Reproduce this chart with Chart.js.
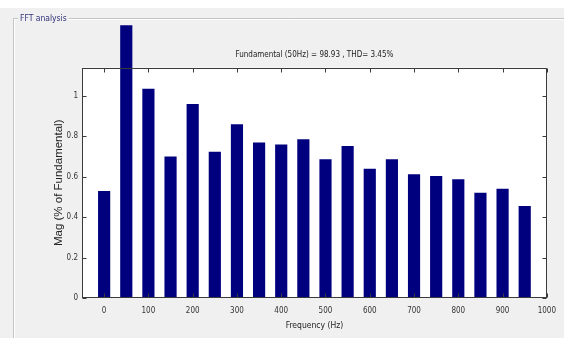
<!DOCTYPE html>
<html><head><meta charset="utf-8">
<script src="https://cdn.jsdelivr.net/npm/chart.js@4.4.0/dist/chart.umd.min.js"></script>
<style>html,body{margin:0;padding:0;background:#fff;}#wrap{width:564px;height:338px;position:relative;}</style>
</head><body><div id="wrap"><canvas id="c" width="564" height="338"></canvas></div>
<script>
const frequencies = [0,50,100,150,200,250,300,350,400,450,500,550,600,650,700,750,800,850,900,950];
const magnitudes = [0.53,1.35,1.035,0.70,0.96,0.724,0.86,0.77,0.76,0.785,0.687,0.752,0.64,0.687,0.612,0.604,0.587,0.521,0.541,0.455];
const xTicks = [0,100,200,300,400,500,600,700,800,900,1000];
const yTicks = [0,0.2,0.4,0.6,0.8,1];
const titleText = 'Fundamental (50Hz) = 98.93 , THD= 3.45%';
const panelLabel = 'FFT analysis';
const xTitle = 'Frequency (Hz)';
const yTitle = 'Mag (% of Fundamental)';

const NARROW = "'Liberation Sans Narrow','DejaVu Sans Condensed','Arial Narrow',sans-serif";
const WIDE = "'Liberation Sans',Arial,sans-serif";

const framePlugin = {
  id: 'framePlugin',
  beforeDraw(chart) {
    const {ctx, chartArea: a} = chart;
    ctx.save();
    ctx.fillStyle = '#ffffff'; ctx.fillRect(0, 0, 564, 338);
    ctx.fillStyle = '#f0f0f0'; ctx.fillRect(0, 8, 564, 330);
    ctx.lineWidth = 1;
    ctx.strokeStyle = '#c4c4c4';
    ctx.beginPath(); ctx.moveTo(13.5, 338); ctx.lineTo(13.5, 18.5); ctx.lineTo(564, 18.5); ctx.stroke();
    ctx.strokeStyle = '#ffffff';
    ctx.beginPath(); ctx.moveTo(14.5, 338); ctx.lineTo(14.5, 19.5); ctx.lineTo(564, 19.5); ctx.stroke();
    ctx.font = '8.5px ' + NARROW;
    const w = ctx.measureText(panelLabel).width;
    ctx.fillStyle = '#f0f0f0'; ctx.fillRect(18, 12, w + 4, 14);
    ctx.fillStyle = '#30307a'; ctx.textBaseline = 'middle'; ctx.textAlign = 'left';
    ctx.fillText(panelLabel, 20, 19);
    ctx.fillStyle = '#ffffff'; ctx.fillRect(a.left, a.top, a.right - a.left, a.bottom - a.top);
    ctx.restore();
  },
  afterDatasetsDraw(chart) {
    const {ctx, chartArea: a, scales} = chart;
    ctx.save();
    ctx.strokeStyle = '#3a3a3a'; ctx.lineWidth = 1;
    const L = Math.round(a.left) + 0.5, R = Math.round(a.right) - 0.5, T = Math.round(a.top) + 0.5, B = Math.round(a.bottom) - 0.5;
    ctx.strokeRect(L, T, R - L, B - T);
    ctx.beginPath();
    xTicks.forEach(v => {
      const x = Math.round(scales.x.getPixelForValue(v)) + 0.5;
      ctx.moveTo(x, B); ctx.lineTo(x, B - 4);
      ctx.moveTo(x, T); ctx.lineTo(x, T + 4);
    });
    yTicks.forEach(v => {
      const y = Math.round(scales.y.getPixelForValue(v)) + 0.5;
      ctx.moveTo(L, y); ctx.lineTo(L + 4, y);
      ctx.moveTo(R, y); ctx.lineTo(R - 4, y);
    });
    ctx.stroke();
    ctx.restore();
  }
};

new Chart(document.getElementById('c'), {
  type: 'bar',
  data: {
    datasets: [{
      data: frequencies.map((f, i) => ({x: f, y: magnitudes[i]})),
      backgroundColor: '#00007f',
      borderWidth: 0,
      barPercentage: 0.55,
      categoryPercentage: 1,
      clip: false
    }]
  },
  options: {
    responsive: false,
    animation: false,
    devicePixelRatio: 1,
    layout: {padding: {left: 0, right: 15, top: 0, bottom: 0}},
    plugins: {
      legend: {display: false},
      tooltip: {enabled: false},
      title: {
        display: true, text: titleText, fullSize: false,
        color: '#222', font: {family: NARROW, size: 8, weight: 'normal', lineHeight: 1.2},
        padding: {top: 50, bottom: 8}
      }
    },
    scales: {
      x: {
        type: 'linear', min: -50, max: 1000, offset: false,
        grid: {display: false, drawTicks: false},
        border: {display: false},
        afterBuildTicks: s => { s.ticks = xTicks.map(v => ({value: v})); },
        afterFit: s => { s.height = 40; },
        ticks: {color: '#333', font: {family: NARROW, size: 8}, padding: 8, maxRotation: 0, autoSkip: false,
          callback: v => String(v)},
        title: {display: true, text: xTitle, color: '#222', font: {family: NARROW, size: 8.5}, padding: {top: 0, bottom: 7}}
      },
      y: {
        type: 'linear', min: 0, max: 1.14,
        grid: {display: false, drawTicks: false},
        border: {display: false},
        afterBuildTicks: s => { s.ticks = yTicks.map(v => ({value: v})); },
        afterFit: s => { s.width = 82; },
        ticks: {color: '#333', font: {family: NARROW, size: 8}, padding: 4, autoSkip: false,
          callback: v => String(Math.round(v * 10) / 10)},
        title: {display: true, text: yTitle, color: '#222', font: {family: WIDE, size: 11.5}, padding: {top: 52, bottom: 0}}
      }
    }
  },
  plugins: [framePlugin]
});
</script>
</body></html>
